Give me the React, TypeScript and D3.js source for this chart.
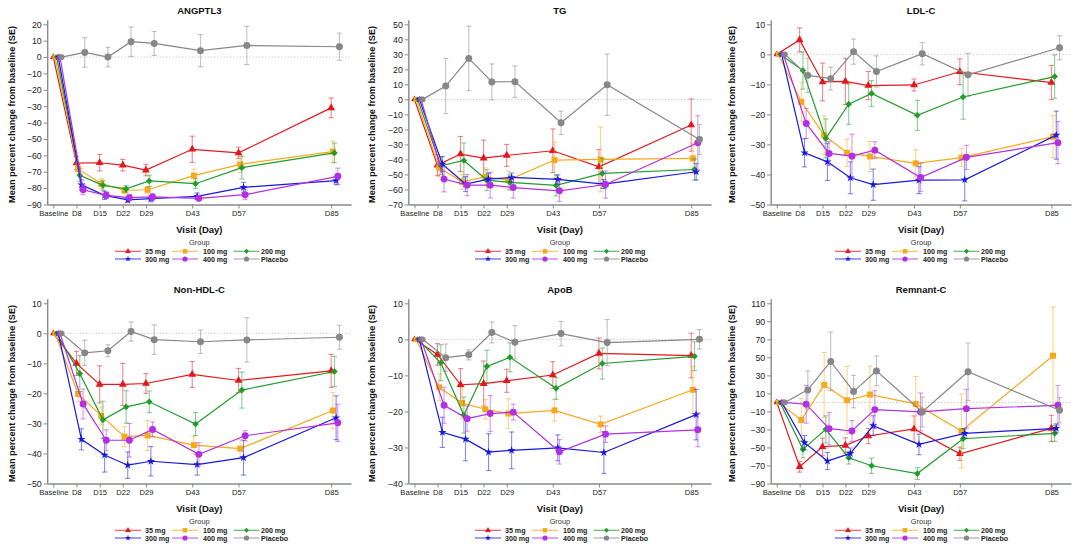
import React, { useEffect, useRef } from 'react';
import * as d3 from 'd3';

const VISITS = ['Baseline', 'D8', 'D15', 'D22', 'D29', 'D43', 'D57', 'D85'];
const DAYS = [1, 8, 15, 22, 29, 43, 57, 85];
const GROUPS = ['35 mg', '100 mg', '200 mg', '300 mg', '400 mg', 'Placebo'];
const COLORS = ['#e5171c', '#f7a91c', '#1f9d2b', '#1818e0', '#b32fe3', '#878787'];
const SYMBOLS = [d3.symbolTriangle, d3.symbolSquare, d3.symbolDiamond2, d3.symbolStar, d3.symbolCircle, d3.symbolCircle];
const SYMBOL_SIZES = [27, 36, 28, 21, 38, 38];

const PANEL_TITLES = ['ANGPTL3', 'TG', 'LDL-C', 'Non-HDL-C', 'ApoB', 'Remnant-C'];
const Y_DOMAINS = [[-90, 20], [-70, 50], [-50, 10], [-50, 10], [-40, 10], [-90, 110]];
const Y_STEPS = [10, 10, 10, 10, 10, 20];

// rows: 35, 100, 200, 300, 400 mg, placebo; columns: visits
const ANGPTL3_MEAN = [
  [0, -64.7, -64.5, -66, -69, -56.3, -58.5, -31],
  [0, -68.3, -77.3, -81.3, -81, -72.4, -65.5, -57.7],
  [0, -72.2, -78.3, -80.5, -75.6, -77.3, -67.5, -58.5],
  [0, -78, -84.4, -87.2, -86.4, -85, -79.5, -75.4],
  [0, -81, -84.4, -85.8, -85.4, -86.2, -84, -72.8],
  [0, 2.8, 0, 9.4, 8.3, 3.9, 7.1, 6.3],
];
const ANGPTL3_SE = [
  [0, 4, 5, 3.5, 3.5, 8, 3.5, 6],
  [0, 3, 3, 2, 2, 4, 5, 6.5],
  [0, 4, 3, 2, 3.5, 3, 7, 6],
  [0, 3, 2.5, 1.5, 2, 2, 3, 2.5],
  [0, 3, 2, 2, 2, 1.5, 3, 5],
  [0, 9, 6, 9, 7.3, 9.8, 11.7, 8.3],
];

const TG_MEAN = [
  [0, -43.8, -36.4, -39.1, -37.3, -34.2, -44.9, -17.1],
  [0, -45.5, -54.9, -51.6, -53.8, -40.4, -40, -39.3],
  [0, -44.2, -40.7, -53.8, -55.3, -57.3, -49.3, -46.7],
  [0, -43.1, -56.4, -53.1, -52, -53.3, -56.4, -48.2],
  [0, -53.1, -57.1, -57.1, -58.7, -60.9, -56.7, -28.9],
  [0, 8.9, 27.3, 11.6, 11.8, -15.6, 9.8, -26.7],
];
const TG_SE = [
  [0, 7, 11.7, 12, 7.3, 14.5, 11.5, 17.4],
  [0, 6, 5, 6, 6, 12, 21.5, 10],
  [0, 6, 11.7, 7, 5, 7, 10, 7],
  [0, 5, 5, 4, 3, 3, 3, 5.5],
  [0, 8.5, 7, 8.5, 7, 7, 9, 18],
  [0, 18.4, 21.5, 12, 10.5, 7.8, 20.5, 10],
];

const LDL_MEAN = [
  [0, 4.8, -9.2, -9, -10.4, -10.2, -5.8, -9.4],
  [0, -15.8, -26.9, -32.8, -34, -36.3, -34.4, -27.4],
  [0, -5.4, -28, -16.6, -13, -20.3, -14.2, -7.4],
  [0, -32.8, -35.8, -41.1, -43.4, -41.9, -41.8, -26.9],
  [0, -23, -33, -33.9, -31.9, -41, -34.3, -29.4],
  [0, -7, -8.1, 0.9, -5.7, 0.2, -6.8, 2.2],
];
const LDL_SE = [
  [0, 4, 6.3, 7.7, 4.7, 2, 4.3, 5.7],
  [0, 6.5, 6.5, 4.5, 5, 4.5, 3, 7],
  [0, 6.2, 6.5, 6.7, 4.3, 5, 7.4, 7.2],
  [0, 4.7, 6.2, 5.3, 5.2, 4.5, 7, 8],
  [0, 5, 4, 7.3, 2.8, 4.7, 4, 7],
  [0, 5.7, 3.8, 4.2, 5.2, 3.7, 7.2, 4],
];

const NONHDL_MEAN = [
  [0, -10, -17, -17, -16.7, -13.7, -15.7, -12.5],
  [0, -20.2, -27.5, -34.4, -34, -37.2, -38.4, -25.7],
  [0, -13.4, -28.8, -24.5, -22.8, -30.2, -18.9, -12.7],
  [0, -35.3, -40.5, -43.9, -42.6, -43.7, -41.4, -28.1],
  [0, -23.5, -35.6, -35.6, -32, -40.3, -34.1, -29.8],
  [0, -6.5, -5.8, 0.6, -2.1, -2.8, -2.2, -1.3],
];
const NONHDL_SE = [
  [0, 4, 6.2, 7, 3.3, 4.3, 4, 5.5],
  [0, 2.5, 3, 3.3, 5, 3, 3, 6],
  [0, 6, 6.2, 5.4, 3.6, 3.8, 6, 5],
  [0, 3.5, 5.7, 4.4, 4.9, 3.5, 5.8, 7.3],
  [0, 5, 3.5, 5.6, 2.5, 3.9, 1.7, 6.2],
  [0, 4.2, 2, 3.2, 4.9, 3.9, 7.4, 4],
];

const APOB_MEAN = [
  [0, -4.2, -12.6, -12.3, -11.5, -9.9, -3.9, -4.5],
  [0, -13.3, -17.7, -19.4, -20.6, -19.7, -23.6, -14],
  [0, -6.5, -21, -7.5, -5, -13.6, -6.7, -4.7],
  [0, -25.8, -27.7, -31.3, -30.8, -30.1, -31.4, -20.9],
  [0, -18.3, -22, -20.6, -20.2, -31.2, -26.3, -25.1],
  [0, -5.1, -4.3, 1.9, -0.8, 1.6, -0.9, 0],
];
const APOB_SE = [
  [0, 3, 4.5, 6.3, 3.2, 3.7, 4.3, 6.2],
  [0, 3.7, 4.3, 2.7, 4.1, 3, 2.3, 6.5],
  [0, 5, 5, 4.5, 4, 3, 4.3, 4],
  [0, 4.2, 6, 5.1, 5.1, 3.6, 5.8, 7],
  [0, 5, 3.5, 5, 2.2, 3.4, 2.3, 4.7],
  [0, 3.8, 1.4, 2.9, 4.6, 3.4, 6.4, 2.7],
];

const REMNANT_MEAN = [
  [0, -71.4, -49.2, -47.7, -37.3, -29.5, -57, -28.8],
  [0, -19.5, 19.5, 2.4, 8.7, -1.7, -31.7, 51.8],
  [0, -52.1, -29.9, -61.4, -70.3, -79, -40.3, -34.3],
  [0, -44.7, -65.1, -56.6, -25.8, -46.6, -34.3, -28.8],
  [0, -2, -29.1, -31.7, -8, -10.6, -6.9, -3.2],
  [0, 13.9, 45.5, 12, 35, -10.6, 34, -8.7],
];
const REMNANT_SE = [
  [0, 6, 9.5, 8.5, 8.5, 14.5, 7.4, 14.5],
  [0, 23.7, 36, 37.5, 31.6, 30.5, 41, 54],
  [0, 9.5, 15, 7, 8.5, 6.5, 11, 9],
  [0, 8, 9.5, 6, 11, 11.5, 5, 5],
  [0, 21, 18, 11.5, 21, 21, 21.5, 22],
  [0, 21, 32.5, 18, 16.5, 16.6, 32, 14],
];

const PANEL_MEANS = [ANGPTL3_MEAN, TG_MEAN, LDL_MEAN, NONHDL_MEAN, APOB_MEAN, REMNANT_MEAN];
const PANEL_SES = [ANGPTL3_SE, TG_SE, LDL_SE, NONHDL_SE, APOB_SE, REMNANT_SE];

const WIDTH = 1080;
const HEIGHT = 548;
const FONT = '"Liberation Sans", Arial, sans-serif';
const AXIS_COLOR = '#8a8a8a';
const DODGE = 0.5; // days between groups at the same visit

export default function App() {
  const svgRef = useRef<SVGSVGElement>(null);

  useEffect(() => {
    if (!svgRef.current) return;
    const svg = d3.select(svgRef.current);
    svg.selectAll('*').remove();
    svg.style('font-family', FONT);

    PANEL_TITLES.forEach((title, p) => {
      const col = p % 3;
      const row = Math.floor(p / 3);
      const left = [47.7, 48.8, 51.2][col];
      const right = 351;
      const top = 24.3;
      const bottom = 204.5;
      const cx = (left + right) / 2;

      const g = svg.append('g').attr('transform', `translate(${col * 360},${row * 279})`);

      const x = d3.scaleLinear().domain([-0.7, 91]).range([left, right]);
      const [y0, y1] = Y_DOMAINS[p];
      const y = d3.scaleLinear().domain([y0, y1]).range([bottom, top]);

      // zero reference
      g.append('line')
        .attr('x1', left)
        .attr('x2', right)
        .attr('y1', y(0))
        .attr('y2', y(0))
        .attr('stroke', '#bdbdbd')
        .attr('stroke-width', 0.9)
        .attr('stroke-dasharray', '1.2,2');

      // y axis
      const yAxis = g
        .append('g')
        .attr('transform', `translate(${left},0)`)
        .call(
          d3
            .axisLeft(y)
            .tickValues(d3.range(y0, y1 + 0.01, Y_STEPS[p]))
            .tickSize(4)
            .tickSizeOuter(0)
            .tickPadding(2)
        );
      yAxis.select('.domain').remove();
      yAxis.selectAll('line').attr('stroke', AXIS_COLOR).attr('stroke-width', 1);
      yAxis.selectAll('text').attr('fill', '#222').style('font-size', '8.8px').style('font-family', FONT);
      g.append('line')
        .attr('x1', left)
        .attr('x2', left)
        .attr('y1', top - 4)
        .attr('y2', bottom + 0.7)
        .attr('stroke', AXIS_COLOR)
        .attr('stroke-width', 1.4);

      // x axis
      const xAxis = g
        .append('g')
        .attr('transform', `translate(0,${bottom})`)
        .call(
          d3
            .axisBottom(x)
            .tickValues(DAYS)
            .tickFormat((_, i) => VISITS[i])
            .tickSize(4)
            .tickSizeOuter(0)
            .tickPadding(2.5)
        );
      xAxis.select('.domain').attr('stroke', AXIS_COLOR).attr('stroke-width', 1.4);
      xAxis.selectAll('line').attr('stroke', AXIS_COLOR).attr('stroke-width', 1);
      xAxis.selectAll('text').attr('fill', '#222').style('font-size', '7.6px').style('font-family', FONT);

      // title and axis labels
      g.append('text')
        .attr('x', cx)
        .attr('y', 13.5)
        .attr('text-anchor', 'middle')
        .style('font-size', '9.5px')
        .style('font-weight', 'bold')
        .attr('fill', '#111')
        .text(title);

      g.append('text')
        .attr('transform', `translate(15,${(top + bottom) / 2}) rotate(-90)`)
        .attr('text-anchor', 'middle')
        .style('font-size', '9.2px')
        .style('font-weight', 'bold')
        .attr('fill', '#111')
        .text('Mean percent change from baseline (SE)');

      g.append('text')
        .attr('x', cx)
        .attr('y', 232.5)
        .attr('text-anchor', 'middle')
        .style('font-size', '9.5px')
        .style('font-weight', 'bold')
        .attr('fill', '#111')
        .text('Visit (Day)');

      // series
      const means = PANEL_MEANS[p];
      const ses = PANEL_SES[p];
      GROUPS.forEach((grp, gi) => {
        const color = COLORS[gi];
        const px = (i: number) => x(DAYS[i] + gi * DODGE);
        const sg = g.append('g');

        means[gi].forEach((m, i) => {
          const se = ses[gi][i];
          if (se <= 0) return;
          const eb = sg.append('g').attr('stroke', color).attr('stroke-opacity', 0.5).attr('stroke-width', 1.1);
          eb.append('line').attr('x1', px(i)).attr('x2', px(i)).attr('y1', y(m - se)).attr('y2', y(m + se));
          eb.append('line').attr('x1', px(i) - 2.6).attr('x2', px(i) + 2.6).attr('y1', y(m - se)).attr('y2', y(m - se));
          eb.append('line').attr('x1', px(i) - 2.6).attr('x2', px(i) + 2.6).attr('y1', y(m + se)).attr('y2', y(m + se));
        });

        const line = d3
          .line<number>()
          .x((_, i) => px(i))
          .y((d) => y(d));
        sg.append('path')
          .attr('d', line(means[gi]) || '')
          .attr('fill', 'none')
          .attr('stroke', color)
          .attr('stroke-width', 1.2);

        const sym = d3.symbol().type(SYMBOLS[gi]).size(SYMBOL_SIZES[gi]);
        const symSmall = d3.symbol().type(SYMBOLS[gi]).size(SYMBOL_SIZES[gi] * 0.7);
        sg.selectAll('path.mk')
          .data(means[gi])
          .enter()
          .append('path')
          .attr('class', 'mk')
          .attr('d', (_, i) => (i === 0 ? symSmall() : sym()) || '')
          .attr('transform', (d, i) => `translate(${px(i)},${y(d)})`)
          .attr('fill', color);
      });

      // legend
      g.append('text')
        .attr('x', cx)
        .attr('y', 245)
        .attr('text-anchor', 'middle')
        .style('font-size', '7.4px')
        .attr('fill', '#333')
        .text('Group');

      const colX = [115, 172, 233.5];
      const colLabel = [145, 203, 261];
      GROUPS.forEach((grp, gi) => {
        const c = gi % 3;
        const r = Math.floor(gi / 3);
        const ly = 251.3 + r * 7.7;
        const lx = colX[c];
        const lg = g.append('g');
        lg.append('line')
          .attr('x1', lx)
          .attr('x2', lx + 26)
          .attr('y1', ly)
          .attr('y2', ly)
          .attr('stroke', COLORS[gi])
          .attr('stroke-opacity', 0.7)
          .attr('stroke-width', 1.2);
        lg.append('path')
          .attr('d', d3.symbol().type(SYMBOLS[gi]).size(SYMBOL_SIZES[gi] * 0.55)() || '')
          .attr('transform', `translate(${lx + 13},${ly})`)
          .attr('fill', COLORS[gi]);
        lg.append('text')
          .attr('x', colLabel[c])
          .attr('y', ly + 2.5)
          .style('font-size', '7.1px')
          .style('font-weight', 'bold')
          .attr('fill', '#222')
          .text(grp);
      });
    });
  }, []);

  return (
    <svg
      ref={svgRef}
      width={WIDTH}
      height={HEIGHT}
      style={{ position: 'absolute', left: 0, top: 0, background: '#fff', display: 'block' }}
    />
  );
}
